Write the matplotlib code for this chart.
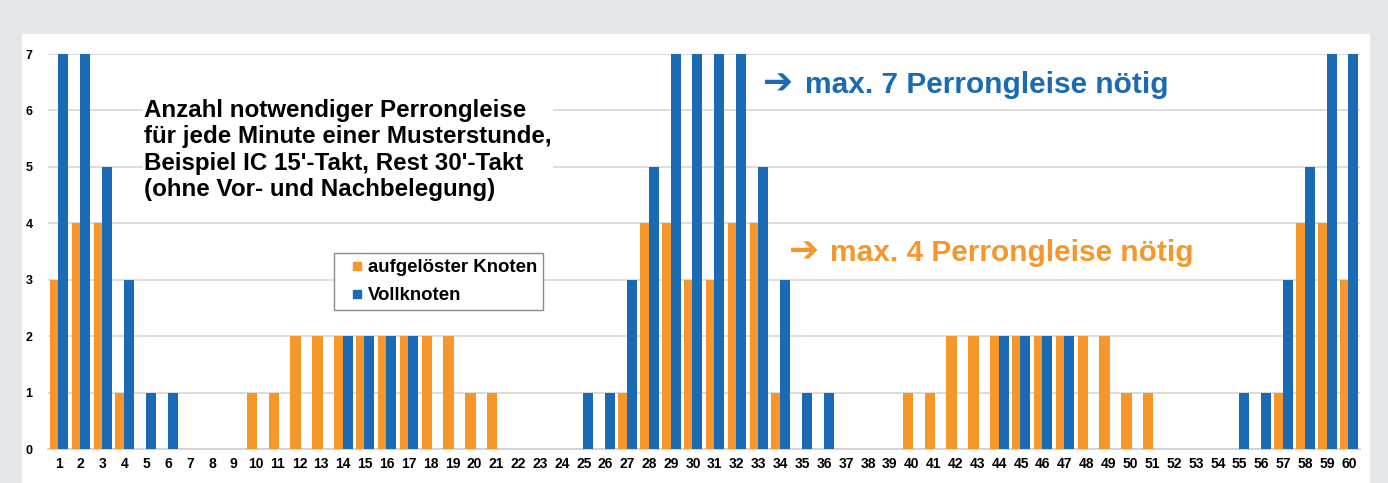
import numpy as np
import matplotlib
matplotlib.use('Agg')
import matplotlib.pyplot as plt
import matplotlib.patches as patches
from matplotlib.lines import Line2D

plt.rcParams['font.family'] = ['Liberation Sans', 'DejaVu Sans']

# Minuten 1..60 einer Musterstunde
MINUTES = list(range(1, 61))
# aufgelöster Knoten (orange)
AUFGELOEST = [3, 4, 4, 1, 0, 0, 0, 0, 0, 1,
              1, 2, 2, 2, 2, 2, 2, 2, 2, 1,
              1, 0, 0, 0, 0, 0, 1, 4, 4, 3,
              3, 4, 4, 1, 0, 0, 0, 0, 0, 1,
              1, 2, 2, 2, 2, 2, 2, 2, 2, 1,
              1, 0, 0, 0, 0, 0, 1, 4, 4, 3]
# Vollknoten (blau)
VOLLKNOTEN = [7, 7, 5, 3, 1, 1, 0, 0, 0, 0,
              0, 0, 0, 2, 2, 2, 2, 0, 0, 0,
              0, 0, 0, 0, 1, 1, 3, 5, 7, 7,
              7, 7, 5, 3, 1, 1, 0, 0, 0, 0,
              0, 0, 0, 2, 2, 2, 2, 0, 0, 0,
              0, 0, 0, 0, 1, 1, 3, 5, 7, 7]
Y_TICKS = list(range(0, 8))

ORANGE = '#F7962B'
BLUE = '#1A6BB3'
GRAY_BG = '#E6E7E9'

W, H = 1388, 483
fig = plt.figure(figsize=(W / 100, H / 100), dpi=100, facecolor=GRAY_BG)

# weisses Panel (unter der Achse)
fig.patches.append(patches.Rectangle((22 / W, 0), (1370 - 22) / W, (H - 34) / H,
                                     transform=fig.transFigure, facecolor='white',
                                     edgecolor='none', zorder=-5))

ax = fig.add_axes([48 / W, (H - 449) / H, (1360 - 48) / W, (449 - 54) / H])
ax.set_facecolor('none')

x = np.array(MINUTES)
ax.bar(x - 0.18, AUFGELOEST, width=0.47, color=ORANGE, zorder=3,
       label='aufgelöster Knoten')
ax.bar(x + 0.2, VOLLKNOTEN, width=0.46, color=BLUE, zorder=4, label='Vollknoten')

ax.set_xlim(0.5, 60.5)
ax.set_ylim(0, 7)
ax.set_xticks(MINUTES)
ax.set_xticklabels([str(m) for m in MINUTES], fontsize=10, fontweight='bold')
ax.set_yticks(Y_TICKS)
ax.set_yticklabels([str(v) for v in Y_TICKS], fontsize=9, fontweight='bold')
ax.tick_params(axis='both', length=0)
ax.tick_params(axis='y', pad=11)
ax.tick_params(axis='x', pad=6)
ax.grid(axis='y', color='#DADADA', linewidth=1.3, zorder=0)
ax.set_axisbelow(True)
for s in ('left', 'right', 'top'):
    ax.spines[s].set_visible(False)
ax.spines['bottom'].set_color('#D0D0D0')
ax.spines['bottom'].set_linewidth(1.3)

# Legende (quadratische Marker)
handles = [Line2D([], [], ls='none', marker='s', ms=6, color=ORANGE,
                  label='aufgelöster Knoten'),
           Line2D([], [], ls='none', marker='s', ms=6, color=BLUE, label='Vollknoten')]
leg = ax.legend(handles=handles, loc='upper left', bbox_to_anchor=(0.218, 0.496),
                prop={'weight': 'bold', 'size': 13.4}, fancybox=False,
                edgecolor='#8C8C8C', framealpha=1, handlelength=1.86,
                handletextpad=-0.34, borderpad=0.32, labelspacing=0.6,
                borderaxespad=0)
leg.get_frame().set_linewidth(1.0)
leg.set_zorder(6)

# Titeltext im Diagramm
fig.text(144 / W, 1 - 150 / H,
         'Anzahl notwendiger Perrongleise\n'
         'für jede Minute einer Musterstunde,\n'
         'Beispiel IC 15\'-Takt, Rest 30\'-Takt\n'
         '(ohne Vor- und Nachbelegung)',
         ha='left', va='center', fontsize=17.4, fontweight='bold', color='black',
         linespacing=1.2, zorder=7,
         bbox=dict(fc='white', ec='none', pad=1))

# Hinweise max. Gleise
fig.text(763 / W, 1 - 84 / H, '➔', ha='left', va='center', fontsize=26,
         family='DejaVu Sans', fontweight='bold', color=BLUE, zorder=7)
fig.text(805 / W, 1 - 85 / H, 'max. 7 Perrongleise nötig', ha='left', va='center',
         fontsize=21.5, fontweight='bold', color=BLUE, zorder=7)
fig.text(789 / W, 1 - 252 / H, '➔', ha='left', va='center', fontsize=26,
         family='DejaVu Sans', fontweight='bold', color=ORANGE, zorder=7)
fig.text(830 / W, 1 - 253 / H, 'max. 4 Perrongleise nötig', ha='left', va='center',
         fontsize=21.5, fontweight='bold', color=ORANGE, zorder=7)

fig.savefig('out.png', dpi=100, facecolor=fig.get_facecolor())
